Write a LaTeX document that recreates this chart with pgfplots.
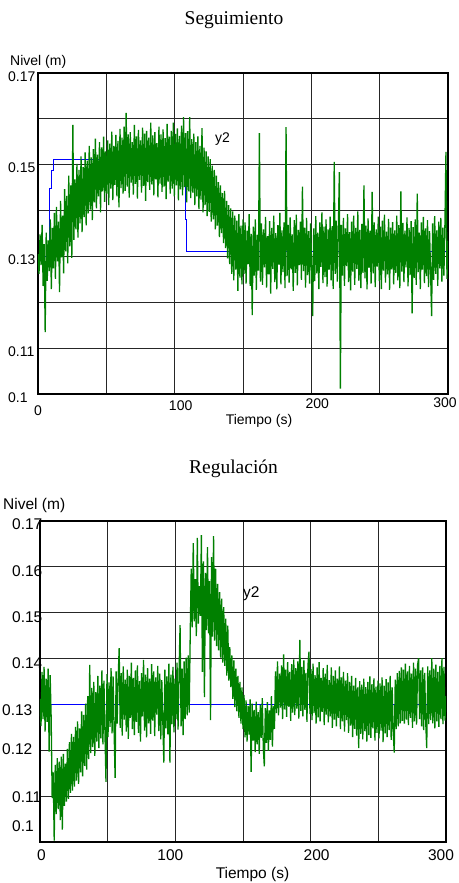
\documentclass[border=0pt]{standalone}
\usepackage{fontspec}
\setmainfont{Liberation Serif}
\newfontfamily\arial{Liberation Sans}
\usepackage{pgfplots}
\usepackage{pgfplotstable}
\pgfplotsset{compat=1.18}
\definecolor{mgreen}{RGB}{0,128,0}
\definecolor{mblue}{RGB}{0,0,255}
\newcommand{\xl}[3]{\raisebox{#2}{\makebox[0pt]{\hspace*{#1}\hspace*{#1}#3}}}

\pgfplotstableread{
x y
0 0.1305
0.75 0.1262
1.5 0.1348
2.25 0.1281
3 0.1369
3.75 0.1236
4.5 0.1327
5.25 0.1135
6 0.1352
6.75 0.1247
7.5 0.1335
8.25 0.1268
9 0.1381
9.75 0.1229
10.5 0.1362
11.25 0.1274
12 0.1395
12.75 0.1251
13.5 0.1408
14.25 0.1289
15 0.1376
15.75 0.1222
16.5 0.1421
17.25 0.1298
18 0.1389
18.75 0.1263
19.5 0.1447
20.25 0.1311
21 0.1432
21.75 0.1285
22.5 0.1476
23.25 0.1322
24 0.1455
24.75 0.1297
25.5 0.1587
26.25 0.1336
27 0.1468
27.75 0.1359
28.5 0.1502
29.25 0.1341
30 0.1489
30.75 0.1372
31.5 0.1518
32.25 0.1353
33 0.1495
33.75 0.1386
34.5 0.1527
35.25 0.1368
36 0.1509
36.75 0.1394
37.5 0.1541
38.25 0.1402
39 0.1516
39.75 0.1379
40.5 0.1534
41.25 0.1418
42 0.1557
42.75 0.1405
43.5 0.1522
44.25 0.1431
45 0.1549
45.75 0.1396
46.5 0.1538
47.25 0.1442
48 0.1561
48.75 0.1419
49.5 0.1529
50.25 0.1437
51 0.1553
51.75 0.1412
52.5 0.1546
53.25 0.1448
54 0.1572
54.75 0.1423
55.5 0.1541
56.25 0.1456
57 0.1565
57.75 0.1431
58.5 0.1552
59.25 0.1407
60 0.1578
60.75 0.1449
61.5 0.1559
62.25 0.1437
63 0.1583
63.75 0.1443
64.5 0.1613
65.25 0.1452
66 0.1566
66.75 0.1428
67.5 0.1571
68.25 0.1461
69 0.1549
69.75 0.1435
70.5 0.1587
71.25 0.1458
72 0.1562
72.75 0.1426
73.5 0.1576
74.25 0.1467
75 0.1553
75.75 0.1439
76.5 0.1581
77.25 0.1454
78 0.1568
78.75 0.1421
79.5 0.1574
80.25 0.1462
81 0.1559
81.75 0.1445
82.5 0.1592
83.25 0.1457
84 0.1564
84.75 0.1433
85.5 0.1571
86.25 0.1468
87 0.1547
87.75 0.1429
88.5 0.1583
89.25 0.1459
90 0.1566
90.75 0.1441
91.5 0.1577
92.25 0.1452
93 0.1558
93.75 0.1425
94.5 0.1589
95.25 0.1463
96 0.1561
96.75 0.1437
97.5 0.1574
98.25 0.1448
99 0.1592
99.75 0.1431
100.5 0.1567
101.25 0.1455
102 0.1579
102.75 0.1422
103.5 0.1563
104.25 0.1446
105 0.1585
105.75 0.1433
106.5 0.1604
107.25 0.1451
108 0.1569
108.75 0.1418
109.5 0.1573
110.25 0.1442
111 0.1604
111.75 0.1427
112.5 0.1556
113.25 0.1439
114 0.1568
114.75 0.1412
115.5 0.1549
116.25 0.1431
117 0.1562
117.75 0.1403
118.5 0.1541
119.25 0.1424
120 0.1580
120.75 0.1396
121.5 0.1537
122.25 0.1412
123 0.1529
123.75 0.1388
124.5 0.1518
125.25 0.1397
126 0.1512
126.75 0.1376
127.5 0.1498
128.25 0.1381
129 0.1489
129.75 0.1359
130.5 0.1476
131.25 0.1367
132 0.1462
132.75 0.1342
133.5 0.1455
134.25 0.1351
135 0.1438
135.75 0.1329
136.5 0.1443
137.25 0.1318
138 0.1421
138.75 0.1296
139.5 0.1412
140.25 0.1283
141 0.1405
141.75 0.1262
142.5 0.1398
143.25 0.1248
144 0.1389
144.75 0.1271
145.5 0.1378
146.25 0.1225
147 0.1392
147.75 0.1254
148.5 0.1367
149.25 0.1239
150 0.1381
150.75 0.1262
151.5 0.1374
152.25 0.1241
153 0.1356
153.75 0.1283
154.5 0.1392
155.25 0.1236
156 0.1349
156.75 0.1172
157.5 0.1365
158.25 0.1258
159 0.1381
159.75 0.1227
160.5 0.1347
161.25 0.1269
162 0.1569
162.75 0.1245
163.5 0.1372
164.25 0.1238
165 0.1359
165.75 0.1276
166.5 0.1386
167.25 0.1232
168 0.1344
168.75 0.1261
169.5 0.1377
170.25 0.1219
171 0.1362
171.75 0.1273
172.5 0.1389
173.25 0.1244
174 0.1351
174.75 0.1228
175.5 0.1368
176.25 0.1282
177 0.1395
177.75 0.1239
178.5 0.1357
179.25 0.1266
180 0.1374
180.75 0.1231
181.5 0.1582
182.25 0.1257
183 0.1369
183.75 0.1243
184.5 0.1385
185.25 0.1272
186 0.1348
186.75 0.1225
187.5 0.1379
188.25 0.1264
189 0.1391
189.75 0.1237
190.5 0.1358
191.25 0.1281
192 0.1376
192.75 0.1249
193.5 0.1452
194.25 0.1268
195 0.1363
195.75 0.1232
196.5 0.1384
197.25 0.1259
198 0.1355
198.75 0.1241
199.5 0.1372
200.25 0.1274
201 0.1170
201.75 0.1361
202.5 0.1246
203.25 0.1388
204 0.1263
204.75 0.1352
205.5 0.1229
206.25 0.1374
207 0.1277
207.75 0.1396
208.5 0.1242
209.25 0.1365
210 0.1255
210.75 0.1381
211.5 0.1234
212.25 0.1359
213 0.1271
213.75 0.1387
214.5 0.1248
215.25 0.1366
216 0.1229
216.75 0.1506
217.5 0.1262
218.25 0.1378
219 0.1245
219.75 0.1357
220.5 0.1484
221.25 0.1012
222 0.1369
222.75 0.1258
223.5 0.1384
224.25 0.1236
225 0.1361
225.75 0.1279
226.5 0.1392
227.25 0.1244
228 0.1353
228.75 0.1226
229.5 0.1376
230.25 0.1267
231 0.1389
231.75 0.1238
232.5 0.1362
233.25 0.1273
234 0.1398
234.75 0.1247
235.5 0.1358
236.25 0.1231
237 0.1371
237.75 0.1264
238.5 0.1455
239.25 0.1252
240 0.1367
240.75 0.1228
241.5 0.1383
242.25 0.1275
243 0.1356
243.75 0.1241
244.5 0.1441
245.25 0.1263
246 0.1374
246.75 0.1233
247.5 0.1359
248.25 0.1278
249 0.1387
249.75 0.1246
250.5 0.1365
251.25 0.1229
252 0.1378
252.75 0.1269
253.5 0.1391
254.25 0.1243
255 0.1354
255.75 0.1261
256.5 0.1382
257.25 0.1227
258 0.1363
258.75 0.1272
259.5 0.1375
260.25 0.1239
261 0.1357
261.75 0.1264
262.5 0.1389
263.25 0.1248
264 0.1368
264.75 0.1231
265.5 0.1442
266.25 0.1267
267 0.1373
267.75 0.1244
268.5 0.1356
269.25 0.1276
270 0.1385
270.75 0.1235
271.5 0.1362
272.25 0.1259
273 0.1377
273.75 0.1176
274.5 0.1364
275.25 0.1253
276 0.1381
276.75 0.1238
277.5 0.1437
278.25 0.1266
279 0.1352
279.75 0.1229
280.5 0.1374
281.25 0.1271
282 0.1386
282.75 0.1242
283.5 0.1361
284.25 0.1257
285 0.1379
285.75 0.1233
286.5 0.1355
287.25 0.1268
288 0.1170
288.75 0.1372
289.5 0.1249
290.25 0.1388
291 0.1262
291.75 0.1357
292.5 0.1236
293.25 0.1376
294 0.1274
294.75 0.1384
295.5 0.1245
296.25 0.1363
297 0.1258
297.75 0.1371
298.5 0.1528
299.25 0.1251
300 0.1334
}\segy

\pgfplotstableread{
x y
0 0.1300
8.3 0.1300
8.3 0.1449
10 0.1449
10 0.1488
11.7 0.1488
11.7 0.1512
107.6 0.1512
107.6 0.1380
108.5 0.1380
108.5 0.1310
300 0.1310
}\segref

\pgfplotstableread{
x y
0 0.1312
0.75 0.1253
1.5 0.1371
2.25 0.1268
3 0.1382
3.75 0.1241
4.5 0.1356
5.25 0.1262
6 0.1378
6.75 0.1197
7.5 0.1364
8.25 0.1272
9 0.1096
9.75 0.1152
10.5 0.1003
11.25 0.1168
12 0.1061
12.75 0.1183
13.5 0.1072
14.25 0.1175
15 0.1048
15.75 0.1186
16.5 0.1027
17.25 0.1192
18 0.1079
18.75 0.1171
19.5 0.1088
20.25 0.1203
21 0.1094
21.75 0.1218
22.5 0.1107
23.25 0.1236
24 0.1112
24.75 0.1229
25.5 0.1121
26.25 0.1251
27 0.1134
27.75 0.1263
28.5 0.1127
29.25 0.1248
30 0.1152
30.75 0.1285
31.5 0.1143
32.25 0.1277
33 0.1166
33.75 0.1302
34.5 0.1158
35.25 0.1318
36 0.1181
36.75 0.1386
37.5 0.1194
38.25 0.1336
39 0.1207
39.75 0.1349
40.5 0.1188
41.25 0.1327
42 0.1219
42.75 0.1362
43.5 0.1205
44.25 0.1341
45 0.1226
45.75 0.1374
46.5 0.1213
47.25 0.1352
48 0.1238
48.75 0.1131
49.5 0.1366
50.25 0.1229
51 0.1348
51.75 0.1251
52.5 0.1379
53.25 0.1237
54 0.1361
54.75 0.1244
55.5 0.1140
56.25 0.1372
57 0.1258
57.75 0.1357
58.5 0.1423
59.25 0.1249
60 0.1368
60.75 0.1232
61.5 0.1383
62.25 0.1267
63 0.1354
63.75 0.1241
64.5 0.1376
65.25 0.1225
66 0.1362
66.75 0.1271
67.5 0.1391
68.25 0.1246
69 0.1358
69.75 0.1233
70.5 0.1374
71.25 0.1262
72 0.1385
72.75 0.1238
73.5 0.1351
74.25 0.1219
75 0.1368
75.75 0.1274
76.5 0.1397
77.25 0.1243
78 0.1365
78.75 0.1228
79.5 0.1379
80.25 0.1259
81 0.1356
81.75 0.1236
82.5 0.1388
83.25 0.1265
84 0.1372
84.75 0.1231
85.5 0.1359
86.25 0.1278
87 0.1384
87.75 0.1242
88.5 0.1367
89.25 0.1224
90 0.1353
90.75 0.1263
91.5 0.1173
92.25 0.1376
93 0.1248
93.75 0.1361
94.5 0.1235
95.25 0.1389
96 0.1173
96.75 0.1365
97.5 0.1257
98.25 0.1382
99 0.1239
99.75 0.1356
100.5 0.1268
101.25 0.1391
102 0.1245
102.75 0.1369
103.5 0.1473
104.25 0.1252
105 0.1378
105.75 0.1233
106.5 0.1394
107.25 0.1268
108 0.1402
108.75 0.1276
109.5 0.1407
110.25 0.1282
111 0.1452
111.75 0.1596
112.5 0.1468
113.25 0.1652
114 0.1481
114.75 0.1573
115.5 0.1449
116.25 0.1663
117 0.1476
117.75 0.1558
118.5 0.1493
119.25 0.1669
120 0.1371
120.75 0.1612
121.5 0.1316
122.25 0.1587
123 0.1462
123.75 0.1643
124.5 0.1455
125.25 0.1569
126 0.1266
126.75 0.1621
127.5 0.1448
128.25 0.1667
129 0.1439
129.75 0.1596
130.5 0.1427
131.25 0.1563
132 0.1418
132.75 0.1545
133.5 0.1402
134.25 0.1531
135 0.1391
135.75 0.1512
136.5 0.1384
137.25 0.1487
138 0.1363
138.75 0.1472
139.5 0.1352
140.25 0.1425
141 0.1338
141.75 0.1407
142.5 0.1312
143.25 0.1396
144 0.1294
144.75 0.1378
145.5 0.1285
146.25 0.1362
147 0.1271
147.75 0.1349
148.5 0.1258
149.25 0.1337
150 0.1246
150.75 0.1321
151.5 0.1228
152.25 0.1309
153 0.1219
153.75 0.1297
154.5 0.1234
155.25 0.1311
156 0.1153
156.75 0.1302
157.5 0.1221
158.25 0.1288
159 0.1196
159.75 0.1306
160.5 0.1213
161.25 0.1283
162 0.1192
162.75 0.1299
163.5 0.1227
164.25 0.1314
165 0.1205
165.75 0.1165
166.5 0.1292
167.25 0.1216
168 0.1305
168.75 0.1199
169.5 0.1287
170.25 0.1223
171 0.1318
171.75 0.1208
172.5 0.1296
173.25 0.1247
174 0.1372
174.75 0.1281
175.5 0.1394
176.25 0.1276
177 0.1367
177.75 0.1293
178.5 0.1385
179.25 0.1268
180 0.1409
180.75 0.1289
181.5 0.1376
182.25 0.1273
183 0.1392
183.75 0.1295
184.5 0.1371
185.25 0.1264
186 0.1388
186.75 0.1282
187.5 0.1398
188.25 0.1277
189 0.1379
189.75 0.1291
190.5 0.1394
191.25 0.1269
192 0.1441
192.75 0.1286
193.5 0.1382
194.25 0.1274
195 0.1396
195.75 0.1288
196.5 0.1369
197.25 0.1262
198 0.1385
198.75 0.1415
199.5 0.1279
200.25 0.1377
201 0.1266
201.75 0.1389
202.5 0.1281
203.25 0.1364
204 0.1258
204.75 0.1381
205.5 0.1272
206.25 0.1392
207 0.1263
207.75 0.1358
208.5 0.1284
209.25 0.1379
210 0.1255
210.75 0.1367
211.5 0.1278
212.25 0.1386
213 0.1261
213.75 0.1353
214.5 0.1274
215.25 0.1381
216 0.1249
216.75 0.1362
217.5 0.1267
218.25 0.1374
219 0.1252
219.75 0.1356
220.5 0.1271
221.25 0.1383
222 0.1246
222.75 0.1359
223.5 0.1263
224.25 0.1371
225 0.1241
225.75 0.1352
226.5 0.1266
227.25 0.1368
228 0.1238
228.75 0.1349
229.5 0.1254
230.25 0.1362
231 0.1229
231.75 0.1341
232.5 0.1247
233.25 0.1358
234 0.1232
234.75 0.1337
235.5 0.1205
236.25 0.1351
237 0.1236
237.75 0.1343
238.5 0.1224
239.25 0.1356
240 0.1242
240.75 0.1338
241.5 0.1219
242.25 0.1349
243 0.1233
243.75 0.1361
244.5 0.1227
245.25 0.1344
246 0.1248
246.75 0.1357
247.5 0.1221
248.25 0.1339
249 0.1238
249.75 0.1352
250.5 0.1226
251.25 0.1346
252 0.1243
252.75 0.1359
253.5 0.1218
254.25 0.1341
255 0.1237
255.75 0.1355
256.5 0.1229
257.25 0.1348
258 0.1244
258.75 0.1362
259.5 0.1223
260.25 0.1337
261 0.1239
261.75 0.1195
262.5 0.1354
263.25 0.1246
264 0.1368
264.75 0.1252
265.5 0.1373
266.25 0.1259
267 0.1381
267.75 0.1264
268.5 0.1376
269.25 0.1258
270 0.1389
270.75 0.1267
271.5 0.1372
272.25 0.1255
273 0.1384
273.75 0.1271
274.5 0.1367
275.25 0.1249
276 0.1391
276.75 0.1263
277.5 0.1378
278.25 0.1256
279 0.1386
279.75 0.1401
280.5 0.1268
281.25 0.1374
282 0.1252
282.75 0.1381
283.5 0.1244
284.25 0.1369
285 0.1262
285.75 0.1205
286.5 0.1383
287.25 0.1257
288 0.1374
288.75 0.1266
289.5 0.1401
290.25 0.1259
291 0.1378
291.75 0.1248
292.5 0.1387
293.25 0.1263
294 0.1371
294.75 0.1251
295.5 0.1384
296.25 0.1268
297 0.1401
297.75 0.1257
298.5 0.1382
299.25 0.1265
300 0.1318
}\regy

\pgfplotstableread{
x y
0 0.13
300 0.13
}\regref

\pgfplotsset{
  simax/.style={
    scale only axis,
    anchor=south west,
    xmin=0, xmax=300, ymin=0.1, ymax=0.17,
    xtick={0,50,100,150,200,250,300},
    ytick={0.1,0.11,0.12,0.13,0.14,0.15,0.16,0.17},
    grid=major,
    major grid style={black!85, line width=0.8bp},
    major tick length=0pt,
    axis line style={black, line width=1.4bp},
    clip=true,
  }
}

\begin{document}
\begin{tikzpicture}
\useasboundingbox (0,0) rectangle (459bp,-883bp);

% ---------- Top: Seguimiento ----------
\node[anchor=base, inner sep=0pt, font=\fontsize{19.5bp}{22bp}\selectfont] at (234bp,-24bp) {Seguimiento};
\begin{axis}[simax,
  at={(38bp,-394bp)}, width=410bp, height=321bp,
  xticklabels={\xl{0bp}{-5bp}{0},,\xl{6bp}{0bp}{100},,\xl{6bp}{2bp}{200},,\xl{-3bp}{3bp}{300}},
  yticklabels={0.1,0.11,,0.13,,0.15,,0.17},
  xticklabel style={anchor=base, inner sep=0pt, yshift=-16bp, font=\arial\fontsize{14bp}{16bp}\selectfont},
  yticklabel style={anchor=base west, inner sep=0pt, xshift=-30bp, yshift=-8bp, font=\arial\fontsize{14bp}{16bp}\selectfont},
]
\addplot[mblue, line width=1bp] table[x=x,y=y] {\segref};
\addplot[mgreen, line width=1.3bp, line join=bevel] table[x=x,y=y] {\segy};
\end{axis}
\node[anchor=base west, inner sep=0pt, font=\arial\fontsize{14bp}{16bp}\selectfont] at (10bp,-65bp) {Nivel (m)};
\node[anchor=base, inner sep=0pt, font=\arial\fontsize{14bp}{16bp}\selectfont] at (259bp,-424bp) {Tiempo (s)};
\node[anchor=base west, inner sep=0pt, font=\arial\fontsize{14bp}{16bp}\selectfont] at (215bp,-142bp) {y2};

% ---------- Bottom: Regulacion ----------
\node[anchor=base, inner sep=0pt, font=\fontsize{19.5bp}{22bp}\selectfont] at (233.5bp,-473bp) {Regulación};
\begin{axis}[simax,
  at={(40bp,-842bp)}, width=406bp, height=321bp,
  xticklabels={\xl{1.5bp}{0bp}{0},,\xl{-5bp}{0bp}{100},,\xl{6bp}{0bp}{200},,\xl{-5bp}{0bp}{300}},
  yticklabels={\raisebox{20bp}{0.1},\raisebox{3bp}{0.11},\hspace*{-10bp}\raisebox{5bp}{0.12},\hspace*{-10bp}\raisebox{-2bp}{0.13},0.14,0.15,0.16,\raisebox{1bp}{0.17}},
  xticklabel style={anchor=base, inner sep=0pt, yshift=-18bp, font=\arial\fontsize{15.5bp}{17bp}\selectfont},
  yticklabel style={anchor=base west, inner sep=0pt, xshift=-28bp, yshift=-9.5bp, font=\arial\fontsize{15.5bp}{17bp}\selectfont},
]
\addplot[mblue, line width=1bp] table[x=x,y=y] {\regref};
\addplot[mgreen, line width=1.3bp, line join=bevel] table[x=x,y=y] {\regy};
\end{axis}
\node[anchor=base west, inner sep=0pt, font=\arial\fontsize{15.5bp}{17bp}\selectfont] at (3bp,-509bp) {Nivel (m)};
\node[anchor=base, inner sep=0pt, font=\arial\fontsize{15.5bp}{17bp}\selectfont] at (252.5bp,-878bp) {Tiempo (s)};
\node[anchor=base west, inner sep=0pt, font=\arial\fontsize{15.5bp}{17bp}\selectfont] at (243bp,-597bp) {y2};
\end{tikzpicture}
\end{document}
